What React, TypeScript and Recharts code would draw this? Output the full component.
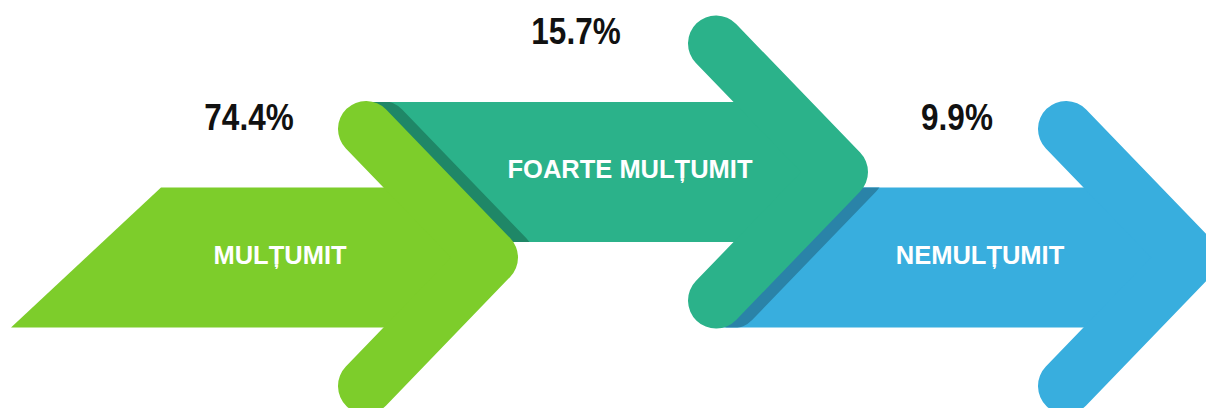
import { ScatterChart, Scatter, XAxis, YAxis } from 'recharts';

const categories = ['MULȚUMIT', 'FOARTE MULȚUMIT', 'NEMULȚUMIT'];
const shares = [74.4, 15.7, 9.9];

const fills = ['#7DCD2B', '#2BB28A', '#38AEDE'];
const shades = ['#5E9F1F', '#1F8767', '#2A83A8'];

// arrow geometry in px
const HALF_BODY = 70;
const ARM = 128.5;
const REACH = 124;
const NOTCH = 22;
const ARM_W = 56;
const ROW_GAP = 85.5;
const SHADOW_DX = 16;
// percent labels are not placed the same over every arrow
const PCT_DX = [-117, -140, -109];

const W = 1206;
const H = 408;

// blue is drawn first so green ends up on top
const points = categories
  .map((name, i) => ({ x: i, y: i % 2, name, share: shares[i], i }))
  .reverse();

function Arrow(props: any) {
  const { cx, cy, payload } = props;
  const i: number = payload.i;
  const raised = payload.y === 1;
  const top = cy - HALF_BODY;
  const bot = cy + HALF_BODY;
  const tailTop = raised ? cx - 355 : cx - 205;
  const tailBot = raised ? cx - 205 : cx - 355;
  const body = `M${tailBot},${bot} L${tailTop},${top} L${cx + NOTCH},${top} L${cx + REACH},${cy} L${cx + NOTCH},${bot} Z`;
  const head = (dx: number) =>
    `M${cx + dx},${cy - ARM} L${cx + REACH + dx},${cy} L${cx + dx},${cy + ARM}`;
  const hasNext = i < categories.length - 1;
  const nextCy = raised ? cy + ROW_GAP : cy - ROW_GAP;
  const clipId = `shade-${i}`;

  return (
    <g>
      {hasNext && (
        <>
          <defs>
            <clipPath id={clipId}>
              <rect x={cx - 100} y={nextCy - HALF_BODY} width={500} height={HALF_BODY * 2} />
            </clipPath>
          </defs>
          <path
            d={head(SHADOW_DX)}
            fill="none"
            stroke={shades[i + 1]}
            strokeWidth={ARM_W}
            strokeLinecap="round"
            strokeLinejoin="round"
            clipPath={`url(#${clipId})`}
          />
        </>
      )}
      <path d={body} fill={fills[i]} />
      <path
        d={head(0)}
        fill="none"
        stroke={fills[i]}
        strokeWidth={ARM_W}
        strokeLinecap="round"
        strokeLinejoin="round"
      />
      <text
        x={cx - 86}
        y={cy + 6}
        textAnchor="middle"
        fill="#ffffff"
        fontSize={25.5}
        fontWeight={700}
        fontFamily="'Liberation Sans', Arial, sans-serif"
      >
        {payload.name}
      </text>
      {/* narrow face for the percentages: squeeze a bold sans */}
      <text
        transform={`translate(${cx + PCT_DX[i]},${cy - 128}) scale(0.84,1)`}
        textAnchor="middle"
        fill="#111111"
        fontSize={37.5}
        fontWeight={700}
        fontFamily="'Liberation Sans', Arial, sans-serif"
      >
        {payload.share.toFixed(1)}%
      </text>
    </g>
  );
}

export default function App() {
  return (
    <div style={{ position: 'absolute', left: 0, top: 0, width: W, height: H, background: '#fff' }}>
      <ScatterChart
        width={W}
        height={H}
        margin={{ top: 172, right: 140, bottom: 150.5, left: 366 }}
      >
        <XAxis type="number" dataKey="x" domain={[0, 2]} hide />
        <YAxis type="number" dataKey="y" domain={[0, 1]} hide />
        <Scatter data={points} shape={Arrow} isAnimationActive={false} />
      </ScatterChart>
    </div>
  );
}
